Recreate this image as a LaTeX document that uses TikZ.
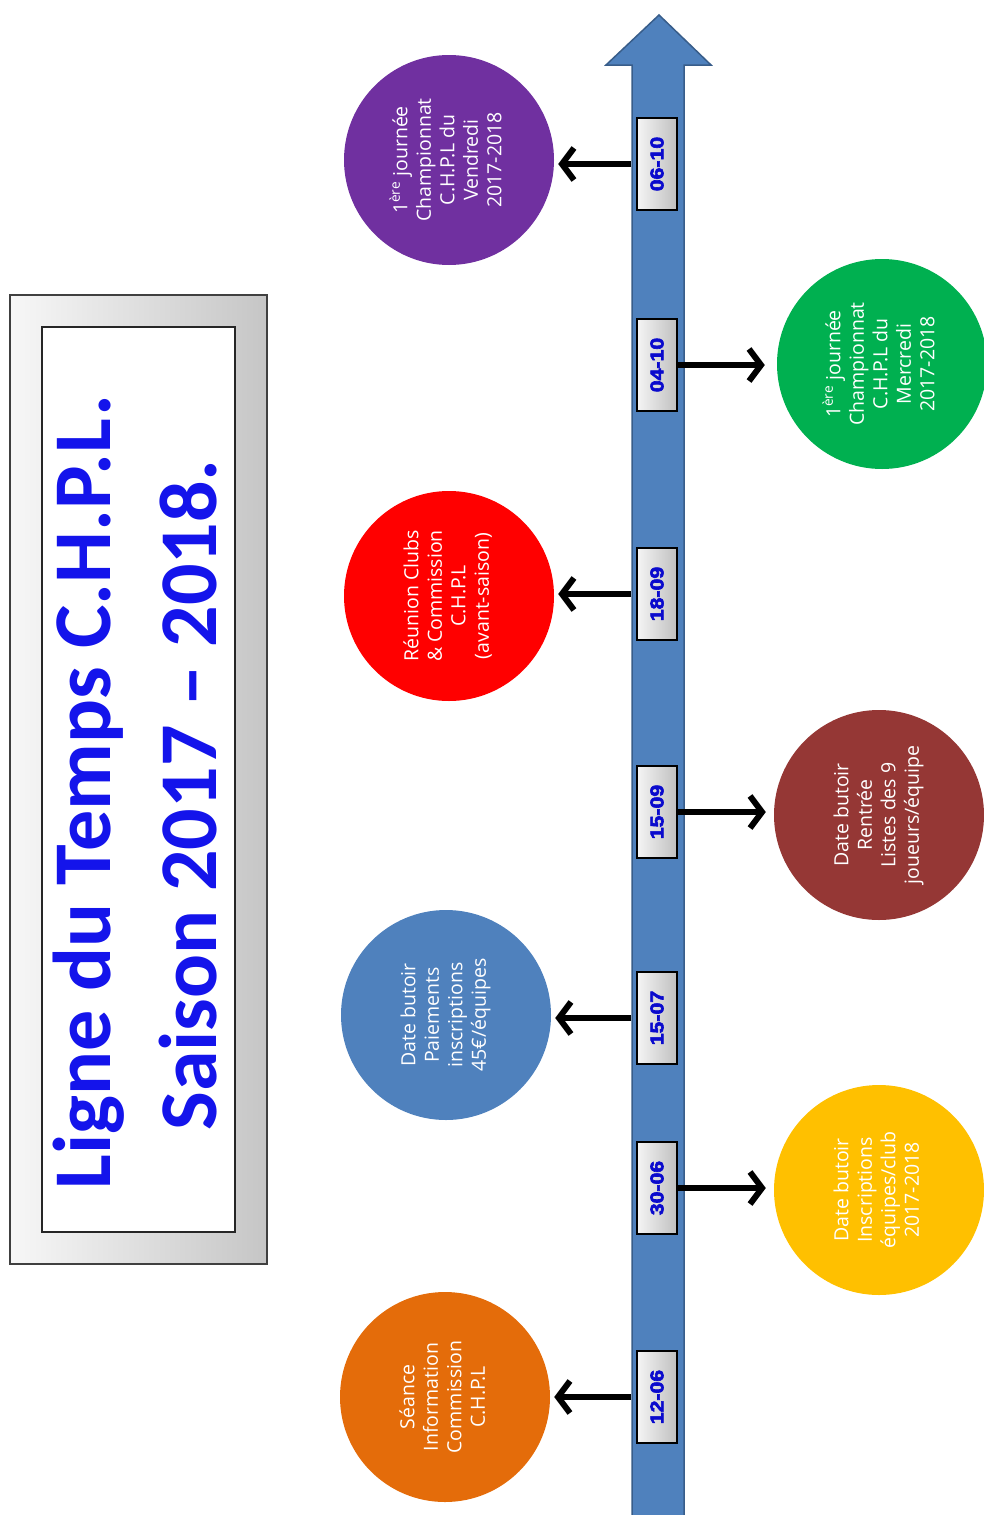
\documentclass[tikz,border=0pt]{standalone}
\usepackage{fontspec}
\setmainfont{Open Sans}
\newfontfamily\titlefont{Carlito}
\newfontfamily\datefont{Liberation Sans}[BoldFeatures={FakeBold=3}]
\usetikzlibrary{arrows.meta}
\definecolor{shaftfill}{HTML}{4F81BD}
\definecolor{shaftdraw}{HTML}{385D8A}
\definecolor{cpurple}{HTML}{7030A0}
\definecolor{cred}{HTML}{FF0000}
\definecolor{cblue}{HTML}{4F81BD}
\definecolor{corange}{HTML}{E46C0A}
\definecolor{cgreen}{HTML}{00B050}
\definecolor{cdarkred}{HTML}{953735}
\definecolor{cyellow}{HTML}{FFC000}
\definecolor{titleblue}{RGB}{20,20,235}
\definecolor{dateblue}{RGB}{10,10,205}
\newcommand{\vlines}[1]{\rotatebox{90}{\begin{tabular}{@{}c@{}}#1\end{tabular}}}
\newcommand{\dtxt}[1]{\rotatebox{90}{\scalebox{1.15}[1]{\datefont\bfseries\fontsize{18.5}{18.5}\selectfont #1}}}
\tikzset{
  evt/.style={circle, minimum size=210pt, inner sep=0pt, text=white,
    font=\fontsize{19.5}{23.5}\selectfont},
  datebox/.style={rectangle, draw=black, line width=1.2pt, minimum width=40pt,
    minimum height=92pt, inner sep=0pt, left color=gray!8, right color=gray!50,
    text=dateblue},
  link/.style={line width=6pt, -{Straight Barb[length=12pt,width=32pt]}},
  titletxt/.style={rotate=90, anchor=base, inner sep=0pt, text=titleblue,
    font=\titlefont\bfseries\fontsize{82}{82}\selectfont},
}
\begin{document}
\begin{tikzpicture}[x=1pt,y=-1pt]
\useasboundingbox (0,0) rectangle (983,1515);
% title frame
\node[draw=black!75, line width=1.2pt, left color=gray!6, right color=gray!45,
  minimum width=257pt, minimum height=969pt, inner sep=0pt] (frame) at (138.5,779.5) {};
\node[draw=black!85, line width=1.2pt, fill=white,
  minimum width=193pt, minimum height=905pt, inner sep=0pt] (inner) at (138.5,779.5) {};
\node[titletxt] (title1) at (110,792) {Ligne du Temps C.H.P.L.};
\node[titletxt] (title2) at (216,795) {Saison 2017 – 2018.};
% timeline arrow
\draw[fill=shaftfill, draw=shaftdraw, line width=1.5pt]
  (632,1520) -- (632,65) -- (606,65) -- (659,15) -- (711,65) -- (684,65) -- (684,1520) -- cycle;
% date boxes
\node[datebox] (d1) at (657,1397) {\dtxt{12-06}};
\node[datebox] (d2) at (657,1188) {\dtxt{30-06}};
\node[datebox] (d3) at (657,1018) {\dtxt{15-07}};
\node[datebox] (d4) at (657,812) {\dtxt{15-09}};
\node[datebox] (d5) at (657,594) {\dtxt{18-09}};
\node[datebox] (d6) at (657,365) {\dtxt{04-10}};
\node[datebox] (d7) at (657,164) {\dtxt{06-10}};
% events
\node[evt, fill=corange] (c1) at (445,1397) {\vlines{Séance\\Information\\Commission\\C.H.P.L}};
\node[evt, fill=cyellow] (c2) at (879,1190) {\vlines{Date butoir\\Inscriptions\\équipes/club\\2017-2018}};
\node[evt, fill=cblue] (c3) at (446,1015) {\vlines{Date butoir\\Paiements\\inscriptions\\45€/équipes}};
\node[evt, fill=cdarkred] (c4) at (879,815) {\vlines{Date butoir\\Rentrée\\Listes des 9\\joueurs/équipe}};
\node[evt, fill=cred] (c5) at (449,596) {\vlines{Réunion Clubs\\\& Commission\\C.H.P.L\\(avant-saison)}};
\node[evt, fill=cgreen] (c6) at (882,364) {\vlines{1\textsuperscript{ère} journée\\Championnat\\C.H.P.L du\\Mercredi\\2017-2018}};
\node[evt, fill=cpurple] (c7) at (449,160) {\vlines{1\textsuperscript{ère} journée\\Championnat\\C.H.P.L du\\Vendredi\\2017-2018}};
% connectors
\draw[link, shorten >=4pt] ([xshift=-5pt]d1.west) -- (d1.west -| c1.east);
\draw[link, shorten >=8pt] (d2.east) -- (d2.east -| c2.west);
\draw[link, shorten >=4pt] ([xshift=-5pt]d3.west) -- (d3.west -| c3.east);
\draw[link, shorten >=8pt] (d4.east) -- (d4.east -| c4.west);
\draw[link, shorten >=4pt] ([xshift=-5pt]d5.west) -- (d5.west -| c5.east);
\draw[link, shorten >=12pt] (d6.east) -- (d6.east -| c6.west);
\draw[link, shorten >=4pt] ([xshift=-5pt]d7.west) -- (d7.west -| c7.east);
\end{tikzpicture}
\end{document}
